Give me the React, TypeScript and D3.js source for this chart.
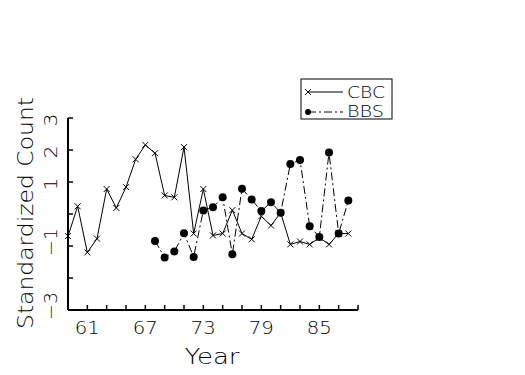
import * as d3 from "d3";

const cbcYears = d3.range(59, 89);
const cbcValues = [
  -0.69, 0.24, -1.2, -0.77, 0.78, 0.19, 0.84, 1.71, 2.16, 1.9,
  0.58, 0.52, 2.09, -0.61, 0.78, -0.67, -0.61, 0.12, -0.61, -0.79,
  -0.07, -0.36, 0.04, -0.95, -0.86, -0.95, -0.74, -0.95, -0.61, -0.61,
];
const bbsYears = d3.range(68, 89);
const bbsValues = [
  -0.84, -1.36, -1.17, -0.6, -1.34, 0.11, 0.21, 0.52, -1.26, 0.79,
  0.45, 0.09, 0.37, 0.04, 1.56, 1.69, -0.38, -0.72, 1.92, -0.61, 0.42,
];
const yTicks = [-3, -2, -1, 0, 1, 2, 3];
const yLabels = [3, 2, 1, -1, -3];
const xTicks = d3.range(61, 90, 2);
const xLabels = [61, 67, 73, 79, 85];

const font = "'DejaVu Sans', sans-serif";

export default function App() {
  const width = 525;
  const height = 375;
  const x = d3.scaleLinear().domain([59, 89]).range([68, 358]);
  const y = d3.scaleLinear().domain([-3, 3]).range([310, 118]);
  const line = d3
    .line<[number, number]>()
    .x((d) => x(d[0]))
    .y((d) => y(d[1]));
  const cbc = cbcYears.map((yr, i) => [yr, cbcValues[i]] as [number, number]);
  const bbs = bbsYears.map((yr, i) => [yr, bbsValues[i]] as [number, number]);

  const cross = (cx: number, cy: number, k: string) => (
    <path
      key={k}
      d={`M${cx - 3},${cy - 3}L${cx + 3},${cy + 3}M${cx - 3},${cy + 3}L${cx + 3},${cy - 3}`}
      stroke="black"
      strokeWidth={1}
    />
  );

  return (
    <svg
      width={width}
      height={height}
      style={{ position: "absolute", left: 0, top: 0, background: "white" }}
      fontFamily={font}
      fontWeight={200}
    >
      {/* axes */}
      <line x1={x(59)} x2={x(59)} y1={y(3)} y2={y(-3)} stroke="black" strokeWidth={2} />
      <line x1={x(59)} x2={x(89)} y1={y(-3)} y2={y(-3)} stroke="black" strokeWidth={2} />
      {yTicks.map((t) => (
        <line key={t} x1={x(59)} x2={x(59) + 5} y1={y(t)} y2={y(t)} stroke="black" strokeWidth={1.5} />
      ))}
      {xTicks.map((t) => (
        <line key={t} x1={x(t)} x2={x(t)} y1={y(-3)} y2={y(-3) - 5} stroke="black" strokeWidth={1.5} />
      ))}
      {yLabels.map((t) => (
        <text
          key={t}
          transform={`translate(57,${y(t) + (t < 0 ? -4 : 2)}) rotate(-90)`}
          textAnchor="middle"
          fontSize={18}
          textLength={t < 0 ? 28 : 13}
          lengthAdjust="spacingAndGlyphs"
        >
          {t < 0 ? "\u2212" + Math.abs(t) : t}
        </text>
      ))}
      {xLabels.map((t) => (
        <text
          key={t}
          x={x(t)}
          y={334}
          textAnchor="middle"
          fontSize={18}
          textLength={25}
          lengthAdjust="spacingAndGlyphs"
        >
          {t}
        </text>
      ))}
      <text x={212} y={364} textAnchor="middle" fontSize={21} textLength={55} lengthAdjust="spacingAndGlyphs">
        Year
      </text>
      <text
        transform="translate(33,213) rotate(-90)"
        textAnchor="middle"
        fontSize={21}
        textLength={232}
        lengthAdjust="spacingAndGlyphs"
      >
        Standardized Count
      </text>

      {/* CBC series */}
      <path d={line(cbc) ?? ""} fill="none" stroke="black" strokeWidth={1} />
      {cbc.map((d, i) => cross(x(d[0]), y(d[1]), "c" + i))}

      {/* BBS series */}
      <path d={line(bbs) ?? ""} fill="none" stroke="black" strokeWidth={1} strokeDasharray="8,3,2,3" />
      {bbs.map((d, i) => (
        <circle key={i} cx={x(d[0])} cy={y(d[1])} r={4} fill="black" />
      ))}

      {/* legend */}
      <rect x={301} y={79} width={91} height={40} fill="white" stroke="black" strokeWidth={1} />
      <line x1={308} x2={343} y1={92} y2={92} stroke="black" strokeWidth={1} />
      {cross(308, 92, "lc")}
      <text x={347} y={98} fontSize={16} textLength={38} lengthAdjust="spacingAndGlyphs">CBC</text>
      <line x1={308} x2={343} y1={112} y2={112} stroke="black" strokeWidth={1} strokeDasharray="8,3,2,3" />
      <circle cx={308} cy={112} r={3} fill="black" />
      <text x={347} y={117} fontSize={16} textLength={37} lengthAdjust="spacingAndGlyphs">BBS</text>
    </svg>
  );
}
